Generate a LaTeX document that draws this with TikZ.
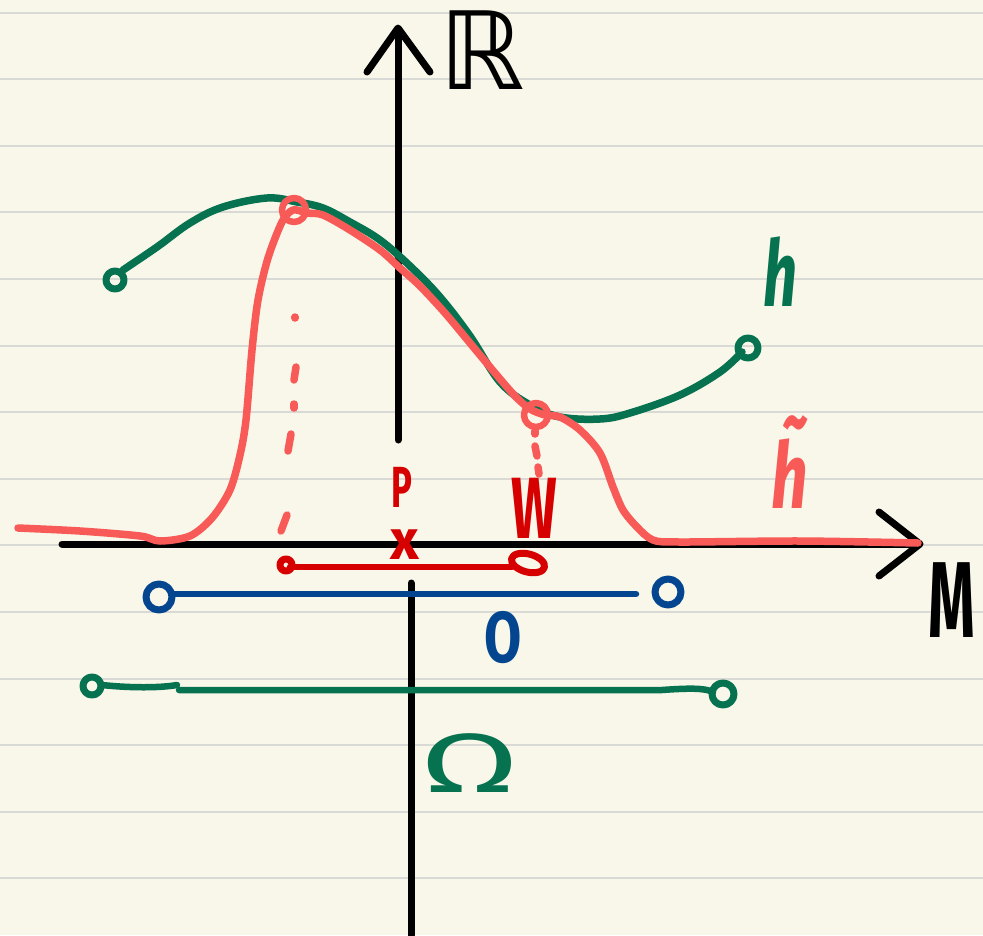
\documentclass[tikz,border=0pt]{standalone}
\usepackage{fontspec}
\setmainfont{Fira Sans}
\newfontfamily\dv{DejaVu Sans}
\definecolor{paper}{HTML}{F8F7EA}
\definecolor{ruleline}{HTML}{D9D9D6}
\definecolor{hgreen}{HTML}{06724F}
\definecolor{hred}{HTML}{F85A58}
\definecolor{dred}{HTML}{D60000}
\definecolor{oblue}{HTML}{03468F}
\begin{document}
\begin{tikzpicture}[x=1pt,y=-1pt,line cap=round,line join=round,
  axis/.style={line width=7pt,black},
  curve/.style={line width=7.5pt},
  loopmark/.style={line width=7pt},
  lbl/.style={inner sep=0pt,anchor=center}]
\fill[paper] (0,0) rectangle (983,935);
\useasboundingbox (0,0) rectangle (983,935);
\foreach \k in {0,...,13}
  \draw[ruleline,line width=2pt] (0,{12.5+66.6*\k}) -- (983,{12.5+66.6*\k});
% axes
\draw[axis] (398,440) -- (398,30);
\draw[axis] (367,72) -- (398,28) -- (430,72);
\draw[axis] (62,544) -- (918,544);
\draw[axis] (879,512) -- (920,544) -- (879,576);
\draw[axis] (411,583) -- (411,935);
% green curve h
\draw[hgreen,curve] plot[smooth,tension=0.6] coordinates {(123,270) (157,247) (190,223) (223,207) (267,198) (297,202) (323,208) (350,222) (380,240) (410,266) (440,297) (470,336) (500,382) (530,405) (560,417) (600,419) (630,413) (680,395) (720,372) (742,352)};
\draw[hgreen,loopmark] (115,280) circle (9);
\draw[hgreen,loopmark] (748,348) circle (10);
% red curve h tilde
\draw[hred,curve] plot[smooth,tension=0.5] coordinates {(18,528) (80,531) (140,536) (160,541) (190,536) (212,518) (230,490) (240,455) (246,420) (252,350) (258,300) (268,258) (282,222) (293,210) (307,213) (323,215) (350,230) (380,250) (400,268) (420,286) (445,313) (470,343) (495,373) (515,396) (530,409) (545,415) (560,417) (580,430) (600,453) (613,487) (623,510) (637,527) (653,540) (680,542) (800,541) (918,543)};
\draw[hred,line width=6.5pt] (294,210) circle (12);
\draw[hred,line width=6.5pt] (536,415) circle (12);
% dotted drops
\foreach \a/\b in {{(295,317)/(295,318)},{(296,367)/(294,380)},{(294,404)/(294,408)},{(291,434)/(288,451)},{(287,515)/(281,531)}}
  \draw[hred,line width=7.5pt] \a -- \b;
\foreach \a/\b in {{(535,431)/(535,434)},{(535,446)/(537,456)},{(538,467)/(539,474)}}
  \draw[hred,line width=7.5pt] \a -- \b;
% dark red set W
\draw[dred,line width=6.5pt] (290,567) -- (512,567);
\draw[dred,line width=7pt] (286,565) circle (6);
\draw[dred,line width=7pt,rotate around={-15:(528,563)}] (528,563) ellipse (17 and 9);
% blue O
\draw[oblue,line width=6.5pt] (174,594) -- (636,594);
\draw[oblue,loopmark] (159,597) circle (13);
\draw[oblue,loopmark] (668,592) circle (13);
% green Omega
\draw[hgreen,line width=6.5pt] (102,685) .. controls (130,688) and (160,688) .. (177,685);
\draw[hgreen,line width=6.5pt] (179,690) -- (662,690) .. controls (690,688) and (705,688) .. (713,692);
\draw[hgreen,loopmark] (92,686) circle (9);
\draw[hgreen,loopmark] (723,694) circle (11);
% labels
\node[lbl] (lR) at (482,50) {\dv\fontsize{108}{108}\selectfont ℝ};
\node[lbl] (lM) at (952,600) {\scalebox{0.55}[1]{\fontsize{108}{108}\selectfont\bfseries M}};
\node[lbl,text=hgreen] (lh) at (780,272) {\scalebox{0.65}[1]{\fontsize{92}{92}\selectfont\bfseries\itshape h}};
\node[lbl,text=hred] (lht) at (790,462) {\scalebox{0.7}[1]{\fontsize{92}{92}\selectfont\bfseries\itshape \~{h}}};
\node[lbl,text=dred] (lP) at (402,487) {\scalebox{0.6}[1]{\fontsize{58}{58}\selectfont\bfseries P}};
\node[lbl,text=dred] (lx) at (405,545) {\fontsize{56}{56}\selectfont\bfseries x};
\node[lbl,text=dred] (lW) at (534,508) {\scalebox{0.62}[1]{\fontsize{87}{87}\selectfont\bfseries W}};
\node[lbl,text=oblue] (lO) at (503,638) {\scalebox{0.75}[1]{\fontsize{72}{72}\selectfont\bfseries O}};
\node[lbl,text=hgreen] (lOm) at (470,763) {\scalebox{1.7}[1]{\fontsize{84}{84}\selectfont Ω}};
\end{tikzpicture}
\end{document}
